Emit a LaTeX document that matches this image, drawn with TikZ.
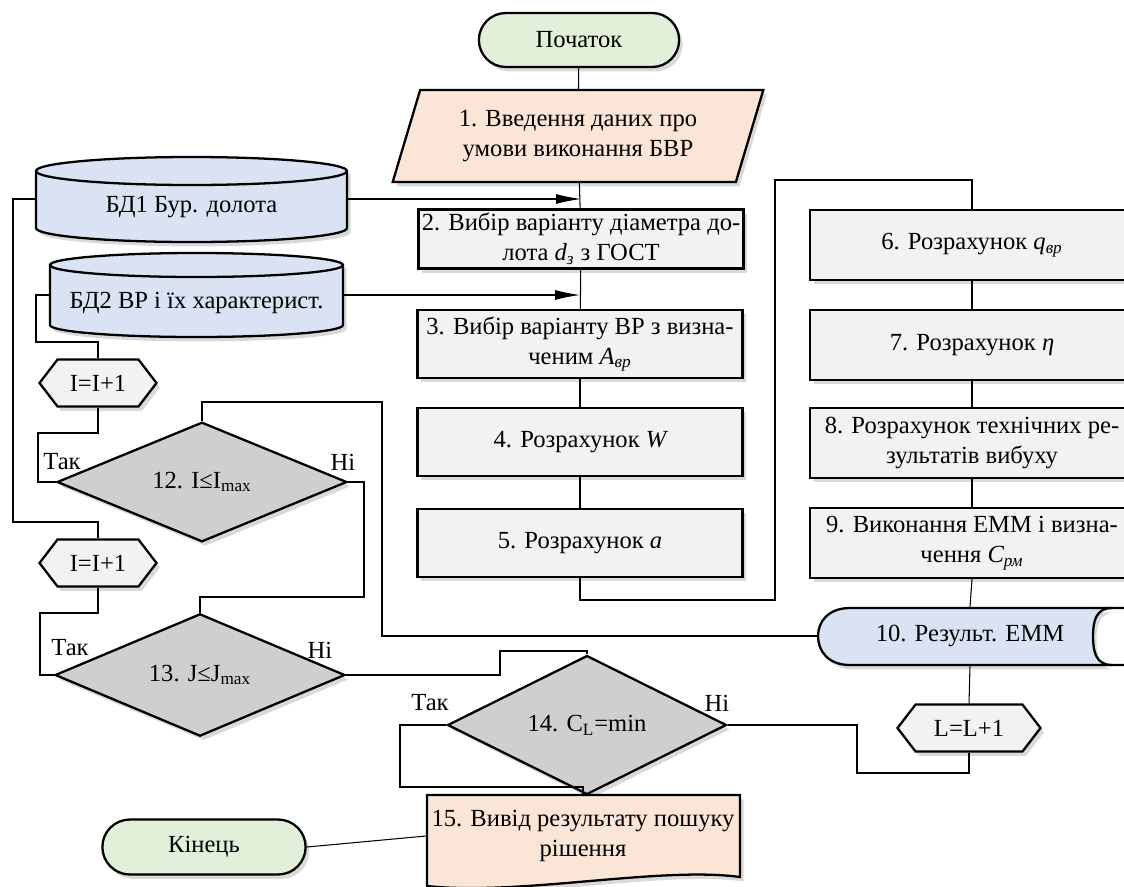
\documentclass[tikz,border=0pt]{standalone}
\usepackage{fontspec}
\setmainfont{Liberation Serif}
\usetikzlibrary{arrows.meta, positioning, shapes.geometric, shapes.misc, shapes.symbols, shadows}
\definecolor{cgreen}{HTML}{E2F0D9}
\definecolor{cpeach}{HTML}{FBE5D6}
\definecolor{cblue}{HTML}{DAE3F3}
\definecolor{cbox}{HTML}{F2F2F2}
\definecolor{cdia}{HTML}{D0CECE}
\newcommand{\lowtext}[1]{\textsubscript{#1}}
\tikzset{
  every picture/.style={font=\fontsize{14}{17}\selectfont, line width=0.6pt},
  shadowed/.style={drop shadow={shadow xshift=2pt, shadow yshift=-2.5pt, opacity=0.3}},
  border/.style={draw=black, line width=1.3pt},
  term/.style={rounded rectangle, border, fill=cgreen, minimum width=4.24cm, minimum height=1.08cm, shadowed},
  inout/.style={trapezium, trapezium left angle=71, trapezium right angle=109, trapezium stretches=true,
    border, fill=cpeach, align=center, minimum width=7.42cm, minimum height=1.84cm, shadowed},
  proc/.style={rectangle, border, fill=cbox, align=center, inner sep=1pt, minimum width=6.5cm, minimum height=#1, shadowed},
  proc/.default=1.36cm,
  decide/.style={diamond, border, fill=cdia, inner sep=0pt, minimum width=5.8cm, minimum height=2.1cm, shadowed},
  counter/.style={signal, signal to=west and east, signal pointer angle=105, border, fill=cbox,
    minimum width=2.34cm, minimum height=0.94cm, inner sep=1pt, shadowed},
  textonly/.style={align=center, inner sep=1pt},
  dbtext/.style={textonly, text height=18pt, text depth=3pt},
  arrow/.style={-{Latex[length=5mm, width=2mm]}},
}
\begin{document}
\begin{tikzpicture}[x=0.02cm, y=-0.02cm]
  \useasboundingbox (0,0) rectangle (1124,886);
  % main column
  \node[term] (start) at (579,40) {Початок};
  \node[inout] (n1) at (578,136) {1. Введення даних про\\умови виконання БВР};
  \node[proc=1.18cm] (n2) at (581,239) {2. Вибір варіанту діаметра до-\\лота {\itshape d\lowtext{з}} з ГОСТ};
  \node[proc] (n3) at (580,344) {3. Вибір варіанту ВР з визна-\\ченим {\itshape A\lowtext{вр}}};
  \node[proc] (n4) at (580,442) {4. Розрахунок {\itshape W}};
  \node[proc] (n5) at (580,543) {5. Розрахунок {\itshape a}};
  % right column
  \node[proc=1.4cm, minimum width=6.48cm] (n6) at (972,245) {6. Розрахунок {\itshape q\lowtext{вр}}};
  \node[proc=1.4cm, minimum width=6.48cm] (n7) at (972,345) {7. Розрахунок {\itshape η}};
  \node[proc=1.4cm, minimum width=6.48cm] (n8) at (972,443) {8. Розрахунок технічних ре-\\зультатів вибуху};
  \node[proc=1.4cm, minimum width=6.48cm] (n9) at (972,543) {9. Виконання ЕММ і визна-\\чення {\itshape C\lowtext{рм}}};
  % display
  \fill[cblue, shadowed] (1112,608) -- (850,608) .. controls (828,608) and (818,622) .. (818,636)
    .. controls (818,651) and (828,665) .. (850,665) -- (1112,665)
    .. controls (1096,665) and (1093,652) .. (1093,636) .. controls (1093,621) and (1096,608) .. (1112,608) -- cycle;
  \draw[border] (1130,608) -- (850,608) .. controls (828,608) and (818,622) .. (818,636)
    .. controls (818,651) and (828,665) .. (850,665) -- (1130,665);
  \draw[border] (1112,608) .. controls (1096,608) and (1093,621) .. (1093,636)
    .. controls (1093,652) and (1096,665) .. (1112,665);
  \node[textonly, minimum width=6.08cm, minimum height=1.14cm] (n10) at (970,636) {10. Результ. ЕММ};
  \node[counter, minimum width=2.86cm] (incL) at (969,728) {L=L+1};
  % data bases
  \filldraw[cblue, border, shadowed] (36,171) -- (36,228) arc[start angle=180, end angle=0, x radius=155.5, y radius=14]
    -- (347,171) arc[start angle=0, end angle=-180, x radius=155.5, y radius=14] -- cycle;
  \draw[border] (36,171) arc[start angle=180, end angle=0, x radius=155.5, y radius=14];
  \node[dbtext, minimum width=6.22cm, minimum height=1.7cm] (db1) at (191.5,199) {БД1 Бур. долота};
  \filldraw[cblue, border, shadowed] (50,265) -- (50,325) arc[start angle=180, end angle=0, x radius=146.5, y radius=12]
    -- (343,265) arc[start angle=0, end angle=-180, x radius=146.5, y radius=12] -- cycle;
  \draw[border] (50,265) arc[start angle=180, end angle=0, x radius=146.5, y radius=12];
  \node[dbtext, minimum width=5.86cm, minimum height=1.68cm] (db2) at (196.5,295) {БД2 ВР і їх характерист.};
  % loops
  \node[counter] (inc1) at (98,383) {I=I+1};
  \node[decide] (d12) at (202,482) {12. I≤I\lowtext{max}};
  \node[counter] (inc2) at (98,563) {I=I+1};
  \node[decide, minimum height=2.12cm] (d13) at (200,675) {13. J≤J\lowtext{max}};
  \node[decide, minimum width=5.58cm, minimum height=2.2cm] (d14) at (587,725) {14. C\lowtext{L}=min};
  % result
  \fill[cpeach, shadowed] (427,795) -- (740,795) -- (740,877) .. controls (660,866) and (520,896) .. (427,886) -- cycle;
  \draw[border] (427,890) -- (427,795) -- (740,795) -- (740,877) .. controls (660,866) and (520,896) .. (427,886);
  \node[textonly, minimum width=6.26cm, minimum height=1.6cm] (n15) at (583,836) {15. Вивід результату пошуку\\рішення};
  \node[term, minimum width=4.3cm, minimum height=1.1cm] (end) at (204,847) {Кінець};
  % labels
  \node (y12) at (62,462) {Так};
  \node (no12) at (343,462) {Ні};
  \node (y13) at (70,648) {Так};
  \node (no13) at (320,650) {Ні};
  \node (y14) at (430,703) {Так};
  \node (no14) at (717,703) {Ні};
  % route points
  \coordinate (r1) at (775,600);
  \coordinate (r2) at (775,180);
  \coordinate (r3) at (382,402);
  \coordinate (r4) at (857,773);
  \coordinate (r5) at (400,787);
  \coordinate (r6) at (500,651);
  \coordinate (r7) at (364,597);
  \coordinate (r8) at (40,613);
  \coordinate (r9) at (38,433);
  \coordinate (r10) at (36,342);
  \coordinate (r11) at (13,522);
  % connectors
  \draw (start) -- (n1);
  \draw (n1) -- (n2);
  \draw (n2) -- (n3);
  \draw (n3) -- (n4);
  \draw (n4) -- (n5);
  \draw (n5.south) |- (r1) -- (r2) -| (n6.north);
  \draw (n6) -- (n7);
  \draw (n7) -- (n8);
  \draw (n8) -- (n9);
  \draw (n9.south) -- (n10.north);
  \draw (n10.south) -- (incL.north);
  \draw (n10.west) -| (r3) -| (d12.north);
  \draw (incL.south) |- (r4) |- (d14.east);
  \draw (d14.west) -| (r5) -| (n15.north);
  \draw (d13.east) -| (r6) -| (d14.north);
  \draw (d12.east) -| (r7) -| (d13.north);
  \draw (d13.west) -| (r8) -| (inc2.south);
  \draw (d12.west) -| (r9) -| (inc1.south);
  \draw (inc1.north) |- (r10) |- (db2.west);
  \draw (db1.west) -| (r11) -| (inc2.north);
  \draw (end.east) -- (n15.west);
  \draw[arrow] (db1.east) -- (db1.east -| n2.north);
  \draw[arrow] (db2.east) -- (db2.east -| n3.north);
\end{tikzpicture}
\end{document}
